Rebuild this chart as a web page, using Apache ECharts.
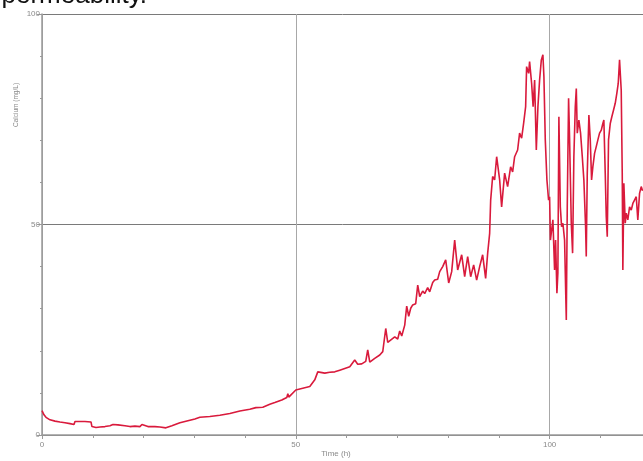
<!DOCTYPE html>
<html>
<head>
<meta charset="utf-8">
<title>Calcium vs time</title>
<script src="https://cdn.jsdelivr.net/npm/echarts@6/dist/echarts.min.js"></script>
<style>
  html, body { margin: 0; padding: 0; background: #fff; }
  #chart { width: 643px; height: 461px; }
</style>
</head>
<body>
<div id="chart"></div>
<script>
// Elapsed time of each reading (h)
const hours = [
  0, 0.39, 0.79, 1.57, 2.56, 3.54, 4.53, 5.51, 6.30, 6.50, 7.48, 8.46, 9.65, 9.84,
  10.63, 11.42, 12.40, 13.39, 13.98, 14.96, 16.34, 17.32, 18.31, 19.29, 19.69, 20.87,
  22.24, 23.23, 23.62, 24.41, 25.59, 27.17, 28.74, 30.12, 31.10, 33.07, 35.04, 37.01,
  38.98, 40.94, 42.13, 43.50, 44.88, 45.87, 47.24, 48.23, 48.43, 48.62, 50.00, 51.38,
  52.76, 53.74, 54.33, 55.71, 56.69, 57.68, 58.66, 59.65, 60.63, 61.61, 62.20, 62.99,
  63.78, 64.17, 64.57, 65.55, 66.54, 67.13, 67.72, 68.11, 68.50, 69.49, 70.08, 70.47,
  70.87, 71.46, 71.85, 72.24, 72.64, 73.03, 73.62, 74.02, 74.41, 75.00, 75.39, 75.98,
  76.38, 76.97, 77.36, 77.95, 78.35, 78.94, 79.53, 80.12, 80.71, 81.30, 81.89, 82.68,
  83.27, 83.86, 84.45, 85.04, 85.63, 86.22, 86.81, 87.40, 87.80, 88.19, 88.39, 88.78,
  89.17, 89.57, 90.16, 90.55, 91.14, 91.73, 92.32, 92.72, 93.11, 93.70, 94.09, 94.49,
  94.88, 95.28, 95.47, 95.87, 96.06, 96.46, 96.75, 97.05, 97.38, 97.70, 98.03, 98.37,
  98.68, 98.88, 99.15, 99.47, 99.80, 100.00, 100.16, 100.65, 100.98, 101.18, 101.44,
  101.63, 101.83, 102.11, 102.36, 102.62, 102.95, 103.29, 103.48, 103.74, 103.94,
  104.27, 104.53, 104.78, 105.06, 105.26, 105.45, 105.77, 106.10, 106.44, 106.75,
  107.09, 107.22, 107.42, 107.74, 108.01, 108.27, 108.52, 108.86, 109.19, 109.51,
  109.84, 110.18, 110.49, 110.69, 110.96, 111.16, 111.36, 111.61, 111.95, 112.26,
  112.60, 112.93, 113.25, 113.52, 113.78, 114.11, 114.31, 114.43, 114.63, 114.90,
  115.10, 115.41, 115.75, 116.08, 116.40, 116.73, 117.07, 117.38, 117.72, 118.05, 118.31
];

// Calcium concentration at each reading (mg/L)
const calcium = [
  5.8, 4.8, 4.2, 3.6, 3.3, 3.1, 2.9, 2.7, 2.5, 3.2, 3.2, 3.2, 3.1, 2.0,
  1.8, 1.9, 2.0, 2.2, 2.5, 2.4, 2.2, 2.0, 2.1, 2.0, 2.5, 2.0,
  2.0, 1.9, 1.6, 1.7, 2.2, 2.9, 3.4, 3.8, 4.2, 4.4, 4.7, 5.1,
  5.7, 6.1, 6.5, 6.6, 7.3, 7.7, 8.3, 8.9, 9.8, 9.0, 10.7, 11.1,
  11.5, 13.1, 15.0, 14.7, 14.9, 15.0, 15.4, 15.8, 16.2, 17.8, 16.8, 16.9,
  17.5, 20.2, 17.3, 18.2, 19.0, 19.8, 25.3, 22.0, 21.8, 23.3, 22.8, 24.7,
  23.5, 26.1, 30.6, 28.2, 30.1, 30.9, 31.2, 35.6, 32.9, 34.2, 33.6, 35.0,
  34.0, 36.2, 36.8, 37.0, 38.8, 40.0, 41.6, 36.1, 38.8, 46.3, 39.2, 42.8,
  37.6, 42.4, 37.6, 40.4, 36.8, 40.0, 42.8, 37.2, 43.2, 47.9, 55.8, 61.4,
  60.6, 66.1, 60.6, 54.2, 62.2, 59.0, 63.7, 62.5, 66.1, 67.7, 71.7, 70.5,
  74.0, 78.0, 87.5, 85.9, 88.7, 83.5, 78.0, 84.3, 67.7, 78.0, 84.3, 89.1,
  90.3, 85.1, 70.1, 60.6, 55.8, 56.6, 46.3, 51.1, 39.2, 46.3, 33.7,
  38.5, 75.6, 54.2, 49.5, 50.3, 46.3, 27.3, 54.2, 80.0, 70.1,
  50.3, 43.2, 66.1, 78.0, 82.3, 71.7, 74.8, 71.7, 66.1, 60.6,
  49.5, 42.4, 62.2, 76.0, 70.1, 60.6, 63.7, 66.9, 68.5, 70.1,
  71.7, 72.4, 74.0, 74.8, 62.2, 51.9, 47.1, 70.1, 74.0, 75.6,
  77.2, 78.8, 81.2, 83.5, 89.1, 81.9, 62.2, 39.2, 59.8, 50.3,
  52.7, 51.1, 54.2, 53.4, 55.0, 55.8, 56.6, 51.1, 57.4, 59.0, 58.0
];

// Labelled ticks on both axes
const tickLabels = [0, 50, 100];

const points = hours.map((h, i) => [h, calcium[i]]);

const chart = echarts.init(document.getElementById('chart'), null, { renderer: 'canvas' });

const axisFont = { fontFamily: 'Liberation Sans, Arial, sans-serif', fontSize: 8, color: '#8a8a8a' };

chart.setOption({
  animation: false,
  backgroundColor: '#ffffff',
  grid: { left: 42, right: 0, top: 14, bottom: 26, containLabel: false },
  xAxis: {
    type: 'value',
    min: 0,
    max: 118.4,
    interval: 50,
    axisLine: { show: true, lineStyle: { color: '#9a9a9a', width: 1.5 } },
    axisTick: { show: true, length: 4, lineStyle: { color: '#9a9a9a' } },
    minorTick: { show: true, splitNumber: 5, length: 3, lineStyle: { color: '#9a9a9a' } },
    splitLine: { show: true, lineStyle: { color: '#a8a8a8', width: 1 } },
    axisLabel: {
      ...axisFont,
      margin: 6,
      showMaxLabel: false,
      formatter: v => tickLabels.includes(v) ? String(v) : ''
    }
  },
  yAxis: {
    type: 'value',
    min: 0,
    max: 100,
    interval: 50,
    axisLine: { show: true, lineStyle: { color: '#9a9a9a', width: 1.5 } },
    axisTick: { show: true, length: 5, lineStyle: { color: '#9a9a9a' } },
    minorTick: { show: true, splitNumber: 5, length: 2, lineStyle: { color: '#9a9a9a' } },
    splitLine: { show: true, lineStyle: { color: '#7a7a7a', width: 1 } },
    axisLabel: {
      ...axisFont,
      margin: 2,
      formatter: v => tickLabels.includes(v) ? String(v) : ''
    }
  },
  graphic: [
    {
      type: 'text',
      right: 643 - 147,
      top: -17,
      style: {
        text: 'permeability.',
        fontFamily: 'Liberation Sans, Arial, sans-serif',
        fontSize: 26,
        fill: '#111111'
      }
    },
    {
      type: 'text',
      x: 13,
      y: 127,
      rotation: Math.PI / 2,
      style: {
        text: 'Calcium (mg/L)',
        fontFamily: 'Liberation Sans, Arial, sans-serif',
        fontSize: 6.5,
        fill: '#8a8a8a'
      }
    },
    {
      type: 'text',
      x: 336,
      y: 450,
      style: {
        text: 'Time (h)',
        align: 'center',
        fontFamily: 'Liberation Sans, Arial, sans-serif',
        fontSize: 8,
        fill: '#8a8a8a'
      }
    }
  ],
  series: [{
    type: 'line',
    data: points,
    showSymbol: false,
    smooth: false,
    lineStyle: { color: '#d91a3c', width: 1.6 },
    z: 3
  }]
});
</script>
</body>
</html>
